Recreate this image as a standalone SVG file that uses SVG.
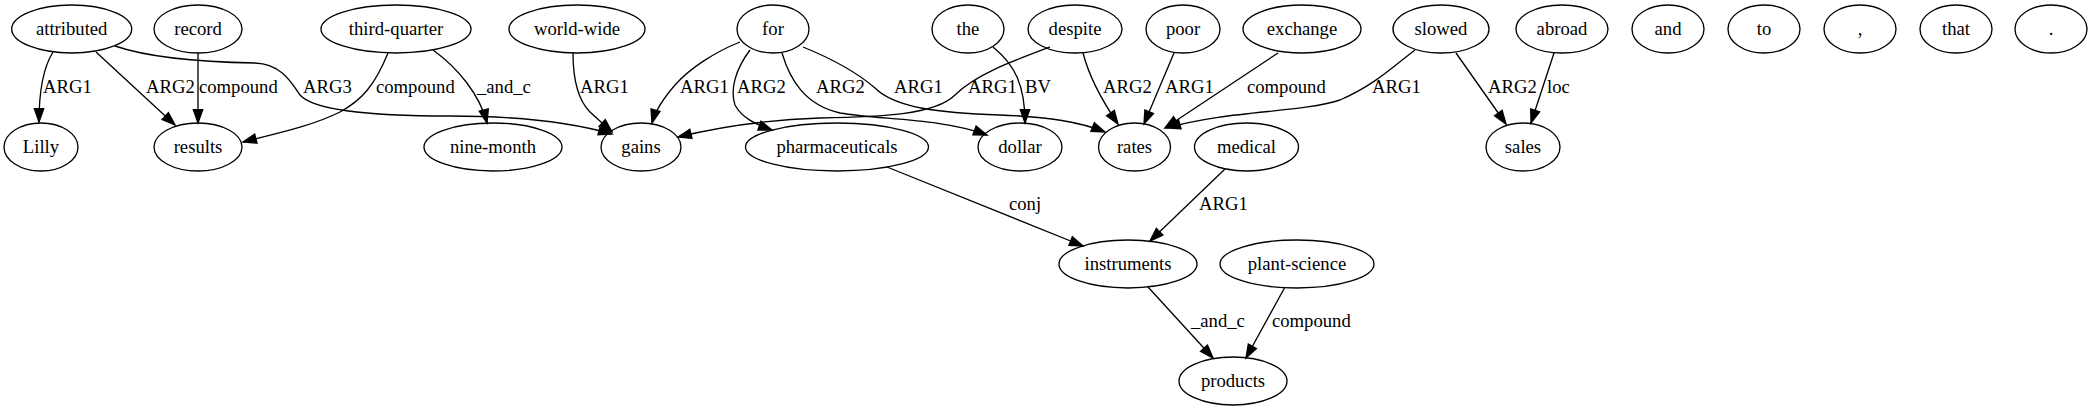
<svg xmlns="http://www.w3.org/2000/svg" width="2093" height="411" viewBox="0 0 2093 411">
<style>
.n ellipse{fill:none;stroke:#000;stroke-width:1.33}
.n text,.lb{font-family:"Liberation Serif","Times New Roman",serif;font-size:18.67px;fill:#000}
.n text{text-anchor:middle}
.e path{fill:none;stroke:#000;stroke-width:1.33;marker-end:url(#ah)}
</style>
<defs>
<marker id="ah" markerUnits="userSpaceOnUse" markerWidth="16" markerHeight="12" refX="13.3" refY="4.67" orient="auto" overflow="visible">
<path d="M0,0 L13.3,4.67 L0,9.33 Z" fill="#000" stroke="#000" stroke-width="1.33"/>
</marker>
</defs>
<rect width="2093" height="411" fill="#fff"/>
<g id="edges" class="e">
<path d="M53,52 C43,68 39,90 39,122"/>
<path d="M96,52 L175,125"/>
<path d="M198,53 L198,123"/>
<path d="M115,46 C150,58 200,62 255,63 C280,64 290,80 300,95 C315,112 380,116 450,116 C520,116 570,122 612,134"/>
<path d="M388,53 C375,85 362,100 340,112 C310,127 270,135 243,142"/>
<path d="M433,50 C458,68 480,95 487,123"/>
<path d="M573,53 C573,80 578,100 590,112 L612,132"/>
<path d="M740,42 C715,52 690,68 675,85 C662,100 655,112 652,123"/>
<path d="M1050,47 C1010,62 975,75 955,95 C935,115 880,117 820,118 C760,120 715,128 678,137"/>
<path d="M750,50 C735,70 730,90 735,105 C742,118 755,124 772,130"/>
<path d="M782,53 C790,80 805,105 840,113 C880,120 940,118 987,135"/>
<path d="M803,47 C835,60 860,75 875,88 C895,108 940,113 1000,115 C1050,117 1080,122 1105,132"/>
<path d="M993,47 C1015,65 1025,85 1025,123"/>
<path d="M1083,53 C1090,80 1105,105 1118,124"/>
<path d="M1174,53 L1144,124"/>
<path d="M1278,53 L1165,128"/>
<path d="M1415,50 C1395,65 1375,85 1340,100 C1300,113 1230,110 1167,128"/>
<path d="M1456,53 L1506,124"/>
<path d="M1554,53 L1531,123"/>
<path d="M887,167 L1083,246"/>
<path d="M1225,169 L1150,241"/>
<path d="M1148,287 L1213,358"/>
<path d="M1285,287 L1246,358"/>
<text class="lb" x="43" y="93">ARG1</text>
<text class="lb" x="146" y="93">ARG2</text>
<text class="lb" x="199" y="93">compound</text>
<text class="lb" x="303" y="93">ARG3</text>
<text class="lb" x="376" y="93">compound</text>
<text class="lb" x="477" y="93">_and_c</text>
<text class="lb" x="580" y="93">ARG1</text>
<text class="lb" x="680" y="93">ARG1</text>
<text class="lb" x="737" y="93">ARG2</text>
<text class="lb" x="816" y="93">ARG2</text>
<text class="lb" x="894" y="93">ARG1</text>
<text class="lb" x="968" y="93">ARG1</text>
<text class="lb" x="1025" y="93">BV</text>
<text class="lb" x="1103" y="93">ARG2</text>
<text class="lb" x="1165" y="93">ARG1</text>
<text class="lb" x="1247" y="93">compound</text>
<text class="lb" x="1372" y="93">ARG1</text>
<text class="lb" x="1488" y="93">ARG2</text>
<text class="lb" x="1547" y="93">loc</text>
<text class="lb" x="1009" y="210">conj</text>
<text class="lb" x="1199" y="210">ARG1</text>
<text class="lb" x="1191" y="327">_and_c</text>
<text class="lb" x="1272" y="327">compound</text>
</g>
<g id="attributed" class="n"><ellipse cx="71.7" cy="29" rx="60" ry="24"/><text x="71.7" y="34.5">attributed</text></g>
<g id="record" class="n"><ellipse cx="198" cy="29" rx="44" ry="24"/><text x="198" y="34.5">record</text></g>
<g id="third-quarter" class="n"><ellipse cx="396" cy="29" rx="75" ry="24"/><text x="396" y="34.5">third-quarter</text></g>
<g id="world-wide" class="n"><ellipse cx="577" cy="29" rx="68" ry="24"/><text x="577" y="34.5">world-wide</text></g>
<g id="for" class="n"><ellipse cx="773" cy="29" rx="36" ry="24"/><text x="773" y="34.5">for</text></g>
<g id="the" class="n"><ellipse cx="968" cy="29" rx="36" ry="24"/><text x="968" y="34.5">the</text></g>
<g id="despite" class="n"><ellipse cx="1075" cy="29" rx="47" ry="24"/><text x="1075" y="34.5">despite</text></g>
<g id="poor" class="n"><ellipse cx="1183" cy="29" rx="37" ry="24"/><text x="1183" y="34.5">poor</text></g>
<g id="exchange" class="n"><ellipse cx="1302" cy="29" rx="59" ry="24"/><text x="1302" y="34.5">exchange</text></g>
<g id="slowed" class="n"><ellipse cx="1441" cy="29" rx="48" ry="24"/><text x="1441" y="34.5">slowed</text></g>
<g id="abroad" class="n"><ellipse cx="1562" cy="29" rx="46" ry="24"/><text x="1562" y="34.5">abroad</text></g>
<g id="and" class="n"><ellipse cx="1668" cy="29" rx="36" ry="24"/><text x="1668" y="34.5">and</text></g>
<g id="to" class="n"><ellipse cx="1764" cy="29" rx="36" ry="24"/><text x="1764" y="34.5">to</text></g>
<g id="comma" class="n"><ellipse cx="1860" cy="29" rx="36" ry="24"/><text x="1860" y="34.5">,</text></g>
<g id="that" class="n"><ellipse cx="1956" cy="29" rx="36" ry="24"/><text x="1956" y="34.5">that</text></g>
<g id="period" class="n"><ellipse cx="2051" cy="29" rx="36" ry="24"/><text x="2051" y="34.5">.</text></g>
<g id="Lilly" class="n"><ellipse cx="41" cy="147" rx="37" ry="24"/><text x="41" y="152.5">Lilly</text></g>
<g id="results" class="n"><ellipse cx="198" cy="147" rx="44" ry="24"/><text x="198" y="152.5">results</text></g>
<g id="nine-month" class="n"><ellipse cx="493" cy="147" rx="69" ry="24"/><text x="493" y="152.5">nine-month</text></g>
<g id="gains" class="n"><ellipse cx="641" cy="147" rx="40" ry="24"/><text x="641" y="152.5">gains</text></g>
<g id="pharmaceuticals" class="n"><ellipse cx="837" cy="147" rx="91.5" ry="24"/><text x="837" y="152.5">pharmaceuticals</text></g>
<g id="dollar" class="n"><ellipse cx="1020" cy="147" rx="42" ry="24"/><text x="1020" y="152.5">dollar</text></g>
<g id="rates" class="n"><ellipse cx="1134.5" cy="147" rx="36" ry="24"/><text x="1134.5" y="152.5">rates</text></g>
<g id="medical" class="n"><ellipse cx="1246.5" cy="147" rx="52" ry="24"/><text x="1246.5" y="152.5">medical</text></g>
<g id="sales" class="n"><ellipse cx="1523" cy="147" rx="37" ry="24"/><text x="1523" y="152.5">sales</text></g>
<g id="instruments" class="n"><ellipse cx="1128" cy="264" rx="69" ry="24"/><text x="1128" y="269.5">instruments</text></g>
<g id="plant-science" class="n"><ellipse cx="1297" cy="264" rx="77" ry="24"/><text x="1297" y="269.5">plant-science</text></g>
<g id="products" class="n"><ellipse cx="1233" cy="381" rx="54" ry="24"/><text x="1233" y="386.5">products</text></g>
</svg>
